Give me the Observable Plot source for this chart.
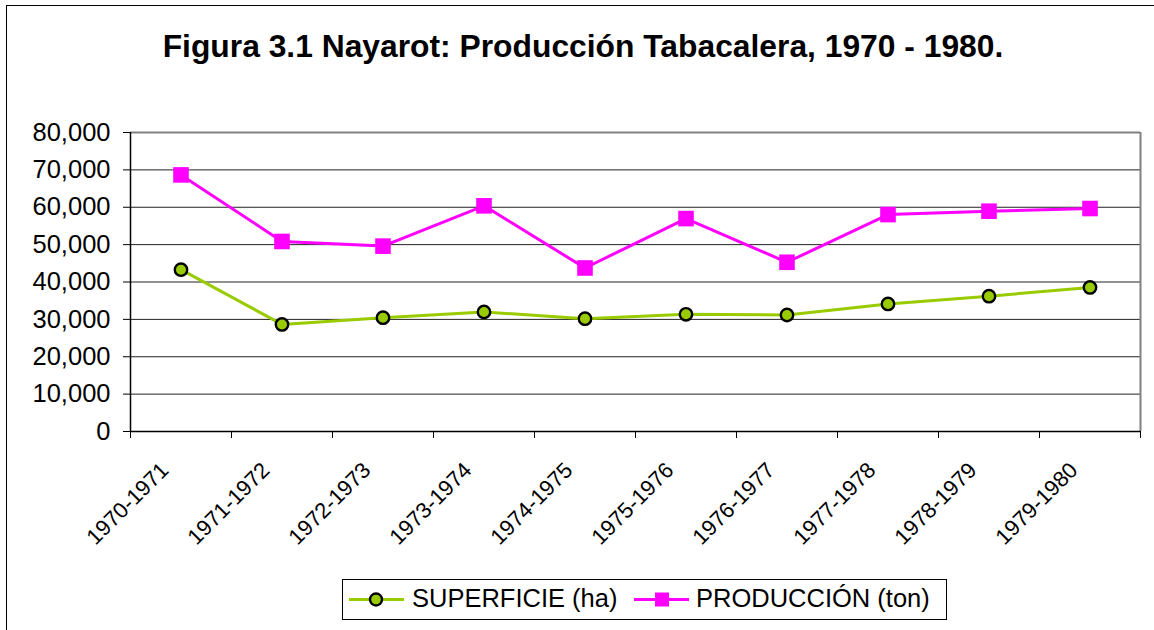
<!DOCTYPE html>
<html>
<head>
<meta charset="utf-8">
<script src="https://cdn.jsdelivr.net/npm/d3@7"></script>
<script src="https://cdn.jsdelivr.net/npm/@observablehq/plot@0.6"></script>
<style>
  html, body { margin: 0; padding: 0; background: #fff; }
  #wrap { position: relative; width: 1154px; height: 630px; overflow: hidden; font-family: "Liberation Sans", Arial, sans-serif; }
  #border { position: absolute; left: 6px; top: 5px; width: 1160px; height: 640px; border: 1px solid #000; box-sizing: border-box; }
  #title { position: absolute; left: 0; top: 30px; width: 1166px; text-align: center; font-weight: bold; font-size: 31.8px; line-height: 32px; color: #000; white-space: nowrap; }
  #chart { position: absolute; left: 0; top: 0; }
  #legend { position: absolute; left: 342px; top: 579px; width: 605px; height: 41px; border: 1px solid #000; box-sizing: border-box; background: #fff; }
  #legend svg { position: absolute; left: -1px; top: -1px; }
  #legend span { position: absolute; top: 6px; font-size: 25.5px; line-height: 25.5px; color: #000; white-space: nowrap; }
</style>
</head>
<body>
<div id="wrap">
  <div id="border"></div>
  <div id="title"></div>
  <div id="chart"></div>
  <div id="legend"></div>
</div>
<script>
const titleText = "Figura 3.1 Nayarot: Producción Tabacalera, 1970 - 1980.";
const categories = ["1970-1971","1971-1972","1972-1973","1973-1974","1974-1975","1975-1976","1976-1977","1977-1978","1978-1979","1979-1980"];
const superficie = [43300, 28650, 30450, 31980, 30180, 31350, 31170, 34130, 36200, 38540];
const produccion = [68650, 50850, 49600, 60380, 43750, 56970, 45280, 58040, 58940, 59660];
const seriesNames = ["SUPERFICIE (ha)", "PRODUCCIÓN (ton)"];
const seriesColors = ["#99cc00", "#ff00ff"];
const yTicks = [0, 10000, 20000, 30000, 40000, 50000, 60000, 70000, 80000];

const rows = categories.map((c, i) => ({i, cat: c, sup: superficie[i], prod: produccion[i]}));
const boundaries = d3.range(categories.length + 1).map(k => k - 0.5);
const innerGrid = yTicks.filter(v => v > 0 && v < 80000);

document.getElementById("title").textContent = titleText;

const chart = Plot.plot({
  width: 1154,
  height: 630,
  marginLeft: 130,
  marginRight: 14,
  marginTop: 132,
  marginBottom: 199,
  style: {fontFamily: "'Liberation Sans', Arial, sans-serif", fontSize: "25.5px", background: "transparent", color: "#000"},
  x: {domain: [-0.5, categories.length - 0.5], ticks: boundaries, tickSize: 7, tickFormat: () => "", label: null},
  y: {domain: [0, 80000], ticks: yTicks, tickSize: 7, tickPadding: 13, tickFormat: d3.format(","), label: null},
  marks: [
    Plot.ruleY(innerGrid, {stroke: "#222", strokeWidth: 1}),
    Plot.ruleY([80000], {stroke: "#808080", strokeWidth: 2}),
    Plot.ruleX([categories.length - 0.5], {stroke: "#808080", strokeWidth: 2}),
    Plot.ruleX([-0.5], {stroke: "#000", strokeWidth: 1.5}),
    Plot.ruleY([0], {stroke: "#000", strokeWidth: 1.5}),
    Plot.text(rows, {x: "i", text: "cat", frameAnchor: "bottom", rotate: -45, textAnchor: "end", lineAnchor: "bottom", dx: -11, dy: 40, fontSize: 22, fill: "#000"}),
    Plot.line(rows, {x: "i", y: "sup", stroke: seriesColors[0], strokeWidth: 3}),
    Plot.dot(rows, {x: "i", y: "sup", r: 6.2, fill: seriesColors[0], stroke: "#000", strokeWidth: 2.4}),
    Plot.line(rows, {x: "i", y: "prod", stroke: seriesColors[1], strokeWidth: 3}),
    Plot.dot(rows, {x: "i", y: "prod", symbol: "square", r: 8.8, fill: seriesColors[1], stroke: "none"})
  ]
});
document.getElementById("chart").appendChild(chart);

// Legend
const legend = document.getElementById("legend");
const ns = "http://www.w3.org/2000/svg";
const lsvg = document.createElementNS(ns, "svg");
lsvg.setAttribute("width", 605);
lsvg.setAttribute("height", 41);
lsvg.innerHTML =
  `<line x1="7" x2="62" y1="20.5" y2="20.5" stroke="${seriesColors[0]}" stroke-width="3"/>` +
  `<circle cx="34" cy="20.5" r="6" fill="${seriesColors[0]}" stroke="#000" stroke-width="2.4"/>` +
  `<line x1="292" x2="347" y1="20.5" y2="20.5" stroke="${seriesColors[1]}" stroke-width="3"/>` +
  `<rect x="313" y="13.5" width="14" height="14" fill="${seriesColors[1]}"/>`;
legend.appendChild(lsvg);
const s1 = document.createElement("span"); s1.style.left = "69px"; s1.textContent = seriesNames[0];
const s2 = document.createElement("span"); s2.style.left = "353px"; s2.textContent = seriesNames[1];
legend.appendChild(s1); legend.appendChild(s2);
</script>
</body>
</html>
